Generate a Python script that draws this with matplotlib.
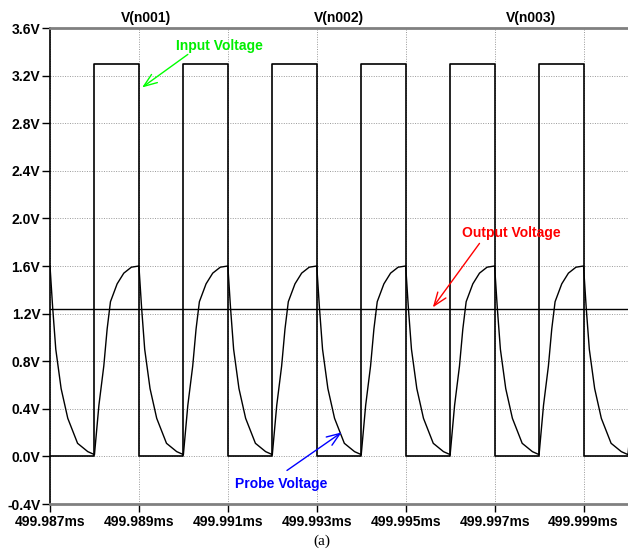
import numpy as np
import matplotlib
matplotlib.use("Agg")
import matplotlib.pyplot as plt

plt.rcParams['font.family'] = ['Liberation Sans', 'DejaVu Sans']

# --- data (time in ms, voltage in V) ---
t_start = 499.987
t_end = 500.000
period = 0.002  # ms

# input square wave: rising edges, each high for 1 us at 3.3 V
input_rise = [499.988, 499.990, 499.992, 499.994, 499.996, 499.998]
input_high = 3.3
input_width = 0.001

# probe voltage, one measured cycle (offset in us from falling edge of input)
probe_cycle_t = [0.0, 0.06, 0.13, 0.25, 0.40, 0.62, 0.85, 1.0,
                 1.1, 1.21, 1.285, 1.36, 1.51, 1.66, 1.83, 2.0]
probe_cycle_v = [1.60, 1.25, 0.90, 0.57, 0.32, 0.11, 0.04, 0.015,
                 0.43, 0.76, 1.07, 1.30, 1.45, 1.54, 1.59, 1.60]
cycle_starts = [499.987, 499.989, 499.991, 499.993, 499.995, 499.997, 499.999]

output_level = 1.235

yticks = [-0.4, 0.0, 0.4, 0.8, 1.2, 1.6, 2.0, 2.4, 2.8, 3.2, 3.6]
ytick_labels = ["-0.4V", "0.0V", "0.4V", "0.8V", "1.2V", "1.6V",
                "2.0V", "2.4V", "2.8V", "3.2V", "3.6V"]
xticks = [499.987, 499.989, 499.991, 499.993, 499.995, 499.997, 499.999]
xtick_labels = ["499.987ms", "499.989ms", "499.991ms", "499.993ms",
                "499.995ms", "499.997ms", "499.999ms"]

# build square wave step arrays
sq_t = [t_start]
sq_v = [0.0]
for r in input_rise:
    sq_t += [r, r, r + input_width, r + input_width]
    sq_v += [0.0, input_high, input_high, 0.0]
sq_t.append(t_end)
sq_v.append(0.0)

# probe trace from repeated cycle
pr_t = []
pr_v = []
for s in cycle_starts:
    for dt, v in zip(probe_cycle_t, probe_cycle_v):
        pr_t.append(s + dt * 1e-3)
        pr_v.append(v)
pr_t = np.array(pr_t)
pr_v = np.array(pr_v)

fig = plt.figure(figsize=(6.28, 5.53), dpi=100)
ax = fig.add_axes([50/628, 49/553, 578/628, 476/553])

ax.plot(sq_t, sq_v, color="black", lw=1.2)
ax.plot(pr_t, pr_v, color="black", lw=1.0)
ax.axhline(output_level, color="black", lw=1.0)

ax.set_xlim(t_start, t_end)
ax.set_ylim(-0.4, 3.6)
ax.set_xticks(xticks)
ax.set_xticklabels(xtick_labels, fontweight="bold")
ax.set_yticks(yticks)
ax.set_yticklabels(ytick_labels, fontweight="bold")
ax.tick_params(axis="both", direction="out", length=6, width=1, labelsize=10)
ax.tick_params(axis="y", pad=1)
ax.tick_params(axis="x", pad=2)
ax.grid(True, color="#999999", linestyle=(0, (1, 1.5)), lw=0.7)

ax.spines["right"].set_visible(False)
ax.spines["top"].set_color("#808080")
ax.spines["top"].set_linewidth(2)
ax.spines["bottom"].set_color("#808080")
ax.spines["bottom"].set_linewidth(2)
ax.spines["left"].set_linewidth(1.2)

# trace names above the plot
trans = matplotlib.transforms.blended_transform_factory(ax.transData, ax.transAxes)
for x, name in zip([499.98916, 499.99349, 499.99781], ["V(n001)", "V(n002)", "V(n003)"]):
    ax.text(x, 1.022, name, transform=trans, ha="center", va="center",
            fontsize=10, fontweight="bold")

# annotations
arrow_style = "->,head_length=0.8,head_width=0.3"
ax.annotate("", xy=(499.98907, 3.10), xytext=(499.9901, 3.378),
            arrowprops=dict(arrowstyle=arrow_style, color="#00ff00", lw=1,
                            mutation_scale=12, shrinkA=0, shrinkB=0))
ax.text(499.99082, 3.445, "Input Voltage", color="#00ee00", ha="center",
        va="center", fontsize=10, fontweight="bold")

ax.annotate("", xy=(499.99561, 1.252), xytext=(499.99666, 1.79),
            arrowprops=dict(arrowstyle=arrow_style, color="red", lw=1,
                            mutation_scale=12, shrinkA=0, shrinkB=0))
ax.text(499.99738, 1.874, "Output Voltage", color="red", ha="center",
        va="center", fontsize=10, fontweight="bold")

ax.annotate("", xy=(499.99356, 0.202), xytext=(499.99233, -0.118),
            arrowprops=dict(arrowstyle=arrow_style, color="blue", lw=1,
                            mutation_scale=12, shrinkA=0, shrinkB=0))
ax.text(499.99219, -0.235, "Probe Voltage", color="blue", ha="center",
        va="center", fontsize=10, fontweight="bold")

fig.text(322/628, 1 - 541/553, "(a)", ha="center", va="center",
         family=["Liberation Serif", "DejaVu Serif"], fontsize=11)

fig.savefig("out.png", dpi=100)
